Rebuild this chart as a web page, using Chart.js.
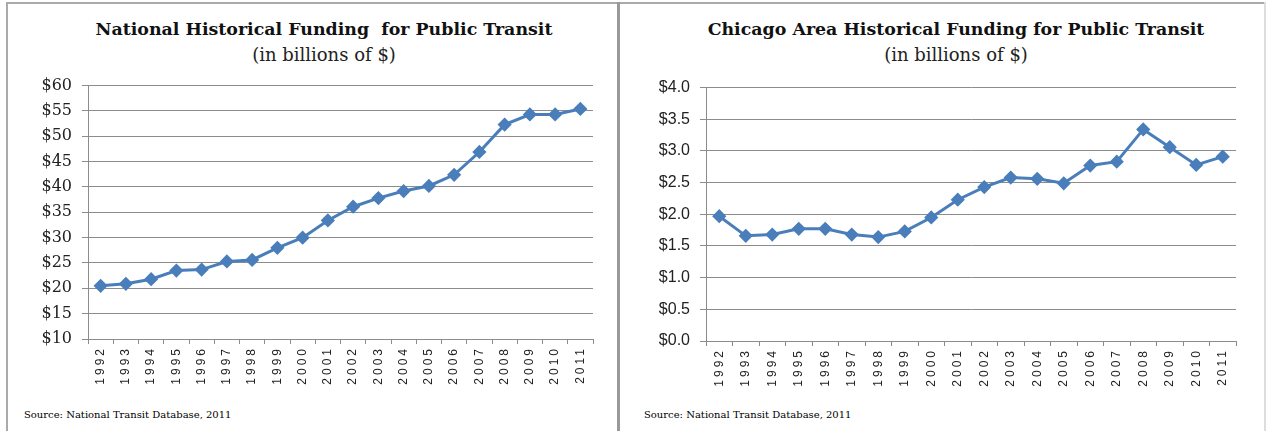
<!DOCTYPE html>
<html>
<head>
<meta charset="utf-8">
<script src="https://cdn.jsdelivr.net/npm/chart.js@4.4.1/dist/chart.umd.min.js"></script>
<style>
  html, body { margin: 0; padding: 0; background: #fff; }
  body { width: 1266px; height: 431px; position: relative; overflow: hidden; }
  .frame-top { position: absolute; left: 6px; top: 2px; width: 1260px; height: 2px; background: #aaa; }
  .frame-left { position: absolute; left: 6px; top: 2px; width: 2px; height: 429px; background: #aaa; }
  .frame-mid { position: absolute; left: 617px; top: 2px; width: 3px; height: 429px; background: #999; }
  .frame-right { position: absolute; left: 1264px; top: 2px; width: 2px; height: 429px; background: #ddd; }
  .title { position: absolute; width: 600px; text-align: center; color: #111;
           font-family: "DejaVu Serif", serif; font-weight: bold; font-size: 17.4px; top: 19px; }
  .sub { position: absolute; width: 600px; text-align: center; color: #222;
         font-family: "DejaVu Serif", serif; font-size: 18px; top: 44px; }
  .source { position: absolute; top: 409px; font-family: "DejaVu Serif", serif; font-size: 10px; color: #000; }
  .box { position: absolute; }
</style>
</head>
<body>
<div class="frame-top"></div>
<div class="frame-left"></div>
<div class="frame-mid"></div>
<div class="frame-right"></div>

<div class="title" style="left:24px">National Historical Funding&nbsp; for Public Transit</div>
<div class="sub" style="left:24px">(in billions of $)</div>
<div class="title" style="left:656px">Chicago Area Historical Funding for Public Transit</div>
<div class="sub" style="left:656px">(in billions of $)</div>

<div class="box" style="left:8px; top:66px; width:609px; height:334px;"><canvas id="nationalChart"></canvas></div>
<div class="box" style="left:620px; top:68px; width:644px; height:332px;"><canvas id="chicagoChart"></canvas></div>

<div class="source" style="left:24px">Source: National Transit Database, 2011</div>
<div class="source" style="left:644px">Source: National Transit Database, 2011</div>

<script>
const years = ['1992', '1993', '1994', '1995', '1996', '1997', '1998', '1999', '2000', '2001',
               '2002', '2003', '2004', '2005', '2006', '2007', '2008', '2009', '2010', '2011'];

// billions of $
const nationalFunding = [20.5, 20.9, 21.8, 23.5, 23.7, 25.3, 25.6, 28.0, 30.0, 33.4,
                         36.1, 37.8, 39.2, 40.2, 42.4, 46.9, 52.3, 54.3, 54.3, 55.4];
const chicagoFunding = [1.97, 1.66, 1.68, 1.77, 1.77, 1.68, 1.64, 1.73, 1.95, 2.23,
                        2.43, 2.58, 2.56, 2.49, 2.77, 2.83, 3.34, 3.06, 2.78, 2.91];

const nationalTicks = { min: 10, max: 60, step: 5 };
const chicagoTicks = { min: 0, max: 4, step: 0.5 };

const lineBlue = '#4A7EBB';
const gridGray = '#8c8c8c';

// spaced-out year labels like the original, only on the x axis
const spacedXLabels = {
    id: 'spacedXLabels',
    afterLayout(chart) {
        const xs = chart.scales.x;
        if (xs._spaced) return;
        const orig = xs.drawLabels.bind(xs);
        xs.drawLabels = (area) => {
            chart.ctx.save();
            chart.ctx.letterSpacing = '3px';
            orig(area);
            chart.ctx.restore();
        };
        xs._spaced = true;
    }
};

function makeChart(id, values, tickCfg, yWidth, xHeight, padding, yFont, yFormat) {
    return new Chart(document.getElementById(id), {
        type: 'line',
        data: {
            labels: years,
            datasets: [{
                data: values,
                borderColor: lineBlue,
                backgroundColor: lineBlue,
                borderWidth: 3,
                pointStyle: 'rectRot',
                pointRadius: 5,
                pointHoverRadius: 5,
                tension: 0
            }]
        },
        options: {
            responsive: true,
            maintainAspectRatio: false,
            animation: false,
            layout: { padding: padding },
            plugins: {
                legend: { display: false },
                tooltip: { enabled: false }
            },
            scales: {
                x: {
                    offset: true,
                    grid: {
                        offset: true,
                        drawOnChartArea: false,
                        color: gridGray,
                        tickLength: 5
                    },
                    border: { color: gridGray },
                    ticks: {
                        minRotation: 90,
                        maxRotation: 90,
                        autoSkip: false,
                        padding: 2,
                        color: '#222',
                        font: { family: 'Liberation Sans', size: 12 }
                    },
                    afterFit(scale) { scale.height = xHeight; }
                },
                y: {
                    min: tickCfg.min,
                    max: tickCfg.max,
                    grid: { color: gridGray, tickLength: 6 },
                    border: { color: gridGray },
                    ticks: {
                        stepSize: tickCfg.step,
                        padding: 10,
                        color: '#222',
                        font: yFont,
                        callback: yFormat
                    },
                    afterFit(scale) { scale.width = yWidth; }
                }
            }
        },
        plugins: [spacedXLabels]
    });
}

makeChart('nationalChart', nationalFunding, nationalTicks, 80, 61,
          { top: 0, right: 24, bottom: 0, left: 0 },
          { family: 'DejaVu Serif', size: 16 },
          (v) => '$' + v);

makeChart('chicagoChart', chicagoFunding, chicagoTicks, 86, 59,
          { top: 0, right: 28, bottom: 0, left: 0 },
          { family: 'Liberation Sans', size: 16 },
          (v) => '$' + v.toFixed(1));
</script>
</body>
</html>
